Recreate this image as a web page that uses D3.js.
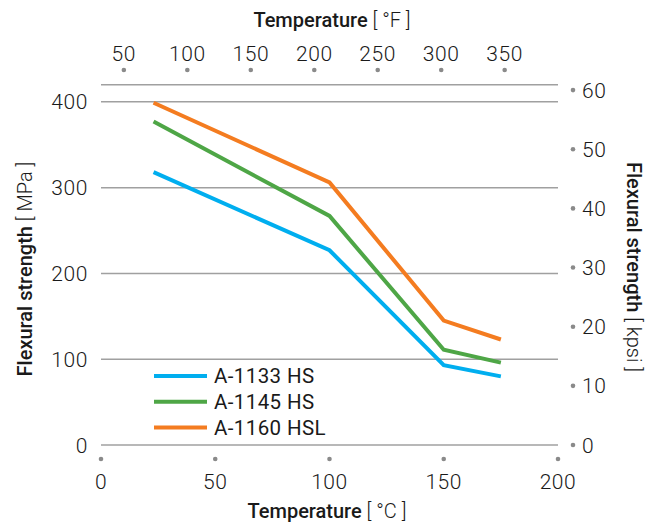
<!DOCTYPE html>
<html>
<head>
<meta charset="utf-8">
<script src="https://cdn.jsdelivr.net/npm/d3@7"></script>
<style>
  body { margin: 0; background: #fff; }
  text { font-family: "Helvetica Neue", Roboto, "Liberation Sans", sans-serif; fill: #1a1a1a; }
</style>
</head>
<body>
<svg id="chart" width="659" height="528"></svg>
<script>
// temperatures in °C where strength was measured
const temps = [23, 100, 150, 175];
const seriesNames = ["A-1133 HS", "A-1145 HS", "A-1160 HSL"];
const a1133 = [318, 227, 93, 80];
const a1145 = [377, 267, 111, 96];
const a1160 = [399, 306, 145, 123];
const colors = ["#00aeef", "#4ea646", "#f47c20"];

const mpaTicks = [0, 100, 200, 300, 400];
const kpsiTicks = [0, 10, 20, 30, 40, 50, 60];
const celsiusTicks = [0, 50, 100, 150, 200];
const fahrenheitTicks = [50, 100, 150, 200, 250, 300, 350];

const series = seriesNames.map((name, i) => ({
  name,
  color: colors[i],
  values: [a1133, a1145, a1160][i].map((v, j) => ({ t: temps[j], v }))
}));

const svg = d3.select("svg#chart");

let x = d3.scaleLinear().domain([0, 200]).range([101, 558]);
let y = d3.scaleLinear().domain([0, 420]).range([445, 84.7]);
const f2c = f => (f - 32) * 5 / 9;
const kpsi2mpa = k => k * 6.89476;

function tickText(sel) {
  sel.style("font-size", "21px")
    .style("font-weight", 300)
    .style("letter-spacing", "0.6px");
}

// gridlines
svg.selectAll("line.grid")
  .data(mpaTicks.concat([420]))
  .enter()
  .append("line")
  .attr("x1", x(0))
  .attr("x2", x(200))
  .attr("y1", d => y(d))
  .attr("y2", d => y(d))
  .style("stroke", "#a0a0a0")
  .style("stroke-width", 1.5);

// left tick labels
svg.selectAll("text.left")
  .data(mpaTicks)
  .enter()
  .append("text")
  .attr("x", 88)
  .attr("y", d => y(d) + 7.5)
  .attr("text-anchor", "end")
  .call(tickText)
  .text(d => d);

// right axis (kpsi)
let rightAxis = svg.append("g");
rightAxis.selectAll("circle")
  .data(kpsiTicks)
  .enter()
  .append("circle")
  .attr("cx", 573)
  .attr("cy", d => y(kpsi2mpa(d)))
  .attr("r", 2.3)
  .style("fill", "#8a8a8a");
rightAxis.selectAll("text")
  .data(kpsiTicks)
  .enter()
  .append("text")
  .attr("x", 582)
  .attr("y", d => y(kpsi2mpa(d)) + 7.5)
  .call(tickText)
  .text(d => d);

// bottom axis (°C)
let bottomAxis = svg.append("g");
bottomAxis.selectAll("circle")
  .data(celsiusTicks)
  .enter()
  .append("circle")
  .attr("cx", d => x(d))
  .attr("cy", 459)
  .attr("r", 2.3)
  .style("fill", "#8a8a8a");
bottomAxis.selectAll("text")
  .data(celsiusTicks)
  .enter()
  .append("text")
  .attr("x", d => x(d))
  .attr("y", 489)
  .attr("text-anchor", "middle")
  .call(tickText)
  .text(d => d);

// top axis (°F)
let topAxis = svg.append("g");
topAxis.selectAll("circle")
  .data(fahrenheitTicks)
  .enter()
  .append("circle")
  .attr("cx", d => x(f2c(d)))
  .attr("cy", 70)
  .attr("r", 2.3)
  .style("fill", "#8a8a8a");
topAxis.selectAll("text")
  .data(fahrenheitTicks)
  .enter()
  .append("text")
  .attr("x", d => x(f2c(d)))
  .attr("y", 61)
  .attr("text-anchor", "middle")
  .call(tickText)
  .text(d => d);

// axis titles: bold word + light unit
function title(g, bold, unit) {
  let t = g.append("text").attr("text-anchor", "middle").style("font-size", "20px");
  t.append("tspan").style("font-weight", 500).text(bold);
  t.append("tspan").style("font-weight", 300).text(" " + unit);
  return t;
}
title(svg.append("g").attr("transform", "translate(332,27)"), "Temperature", "[ °F ]");
title(svg.append("g").attr("transform", "translate(327,518)"), "Temperature", "[ °C ]");
title(svg.append("g").attr("transform", "translate(32,269) rotate(-90)"), "Flexural strength", "[ MPa ]");
title(svg.append("g").attr("transform", "translate(627,267) rotate(90)"), "Flexural strength", "[ kpsi ]");

// series lines
let line = d3.line().x(d => x(d.t)).y(d => y(d.v));
svg.selectAll("path.series")
  .data(series)
  .enter()
  .append("path")
  .attr("d", d => line(d.values))
  .style("fill", "none")
  .style("stroke", d => d.color)
  .style("stroke-width", 4);

// legend
let legend = svg.selectAll("g.legend")
  .data(series)
  .enter()
  .append("g")
  .attr("transform", (d, i) => `translate(154,${376 + i * 25.8})`);
legend.append("line")
  .attr("x1", 0)
  .attr("x2", 53)
  .style("stroke", d => d.color)
  .style("stroke-width", 4);
legend.append("text")
  .attr("x", 60)
  .attr("y", 7)
  .style("font-size", "20.5px")
  .style("font-weight", 400)
  .style("letter-spacing", "0.4px")
  .text(d => d.name);
</script>
</body>
</html>
